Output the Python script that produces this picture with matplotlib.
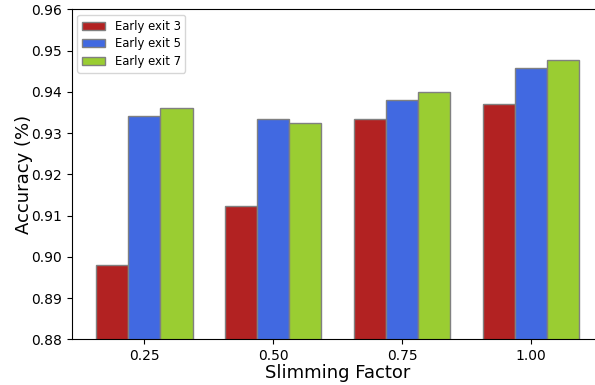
import numpy as np
import matplotlib
matplotlib.use("Agg")
import matplotlib.pyplot as plt

# slimming factors and accuracies
factors = ["0.25", "0.50", "0.75", "1.00"]
exit3 = [0.8980, 0.9123, 0.9334, 0.9371]
exit5 = [0.9342, 0.9334, 0.9381, 0.9459]
exit7 = [0.9362, 0.9324, 0.9400, 0.9476]

x = np.arange(len(factors))
w = 0.25

fig = plt.figure(figsize=(5.95, 3.85), dpi=100)
ax = fig.add_axes([0.1205, 0.1187, 0.8936, 0.857])

ax.bar(x - w, exit3, w, color="firebrick", edgecolor="grey", label="Early exit 3")
ax.bar(x, exit5, w, color="royalblue", edgecolor="grey", label="Early exit 5")
ax.bar(x + w, exit7, w, color="yellowgreen", edgecolor="grey", label="Early exit 7")

ax.set_xticks(x)
ax.set_xticklabels(factors)
ax.set_ylim(0.88, 0.96)
ax.set_xlabel("Slimming Factor", fontsize=13, labelpad=1)
ax.set_ylabel("Accuracy (%)", fontsize=13, labelpad=-1.5)
ax.legend(loc="upper left", fontsize="small", labelspacing=0.4)

fig.savefig("out.png", dpi=100)
